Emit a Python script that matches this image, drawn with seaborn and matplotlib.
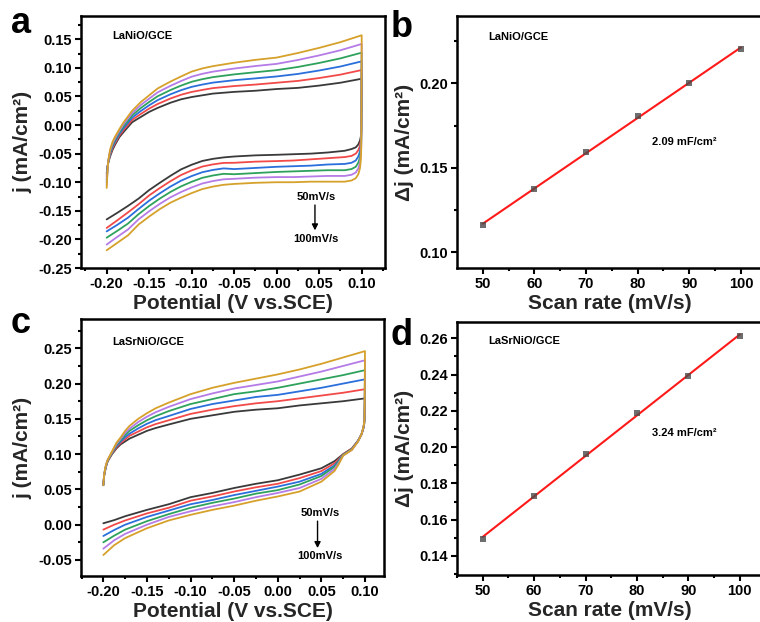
import numpy as np
import pandas as pd
import matplotlib
matplotlib.use("Agg")
import matplotlib.pyplot as plt
from matplotlib.ticker import MultipleLocator, FormatStrFormatter
import seaborn as sns

# ---------------- data ----------------
rates = ["50", "60", "70", "80", "90", "100"]
cv_colors = ["#3a3a3a", "#f24949", "#2a6fdb", "#2ea25c", "#b57be6", "#d6a12a"]

# Panel a: LaNiO/GCE  (forward = upper branch, reverse = lower branch)
E_fwd_a = [-0.200, -0.199, -0.198, -0.196, -0.193, -0.190, -0.185, -0.180, -0.170, -0.160,
           -0.150, -0.140, -0.125, -0.1125, -0.100, -0.0875, -0.075, -0.050, -0.025, 0.000,
           0.025, 0.050, 0.075, 0.100]
j_fwd_a_50 = [-0.085, -0.072, -0.065, -0.055, -0.043, -0.034, -0.021, -0.012, 0.005, 0.014, 0.023, 0.030,
              0.039, 0.045, 0.049, 0.052, 0.055, 0.058, 0.060, 0.063, 0.065, 0.069, 0.074, 0.081]
j_fwd_a_60 = [-0.090, -0.0736, -0.0642, -0.0526, -0.0402, -0.0312, -0.0182, -0.0086, 0.009, 0.0192, 0.0288, 0.0368,
              0.0464, 0.053, 0.0579, 0.0614, 0.0646, 0.0682, 0.0708, 0.074, 0.0772, 0.0822, 0.0882, 0.0962]
j_fwd_a_70 = [-0.095, -0.0752, -0.0634, -0.0502, -0.0374, -0.0284, -0.0154, -0.0052, 0.013, 0.0244, 0.0346, 0.0436,
              0.0538, 0.061, 0.0668, 0.0708, 0.0742, 0.0784, 0.0816, 0.085, 0.0894, 0.0954, 0.1024, 0.1114]
j_fwd_a_80 = [-0.100, -0.0768, -0.0626, -0.0478, -0.0346, -0.0256, -0.0126, -0.0018, 0.017, 0.0296, 0.0404, 0.0504,
              0.0612, 0.069, 0.0757, 0.0802, 0.0838, 0.0886, 0.0924, 0.096, 0.1016, 0.1086, 0.1166, 0.1266]
j_fwd_a_90 = [-0.105, -0.0784, -0.0618, -0.0454, -0.0318, -0.0228, -0.0098, 0.0016, 0.021, 0.0348, 0.0462, 0.0572,
              0.0686, 0.077, 0.0846, 0.0896, 0.0934, 0.0988, 0.1032, 0.107, 0.1138, 0.1218, 0.1308, 0.1418]
j_fwd_a_100 = [-0.110, -0.080, -0.061, -0.043, -0.029, -0.020, -0.007, 0.005, 0.025, 0.040, 0.052, 0.064,
               0.076, 0.085, 0.0935, 0.099, 0.103, 0.109, 0.114, 0.118, 0.126, 0.135, 0.145, 0.157]

E_rev_a = [0.0995, 0.099, 0.098, 0.096, 0.093, 0.088, 0.080, 0.060, 0.040, 0.020, 0.000,
           -0.025, -0.050, -0.0625, -0.075, -0.0875, -0.100, -0.1125, -0.125, -0.1375, -0.150,
           -0.1625, -0.175, -0.1875, -0.200]
j_rev_a_50 = [-0.010, -0.020, -0.027, -0.034, -0.039, -0.042, -0.045, -0.048, -0.050, -0.051, -0.052, -0.053, -0.055,
              -0.0566, -0.0591, -0.0628, -0.0694, -0.0775, -0.0888, -0.101, -0.1137, -0.1287, -0.1415, -0.1535, -0.165]
j_rev_a_60 = [-0.014, -0.027, -0.036, -0.044, -0.050, -0.054, -0.056, -0.058, -0.060, -0.062, -0.063, -0.064, -0.066,
              -0.0662, -0.0688, -0.0726, -0.0793, -0.0874, -0.0982, -0.1102, -0.123, -0.1385, -0.1528, -0.1666, -0.180]
j_rev_a_70 = [-0.020, -0.035, -0.046, -0.055, -0.062, -0.066, -0.068, -0.069, -0.071, -0.072, -0.073, -0.075, -0.077,
              -0.0758, -0.0785, -0.0825, -0.0892, -0.0973, -0.1076, -0.1194, -0.1322, -0.1468, -0.1621, -0.1745, -0.186]
j_rev_a_80 = [-0.026, -0.043, -0.056, -0.066, -0.073, -0.077, -0.079, -0.079, -0.080, -0.081, -0.082, -0.084, -0.086,
              -0.0853, -0.0882, -0.0923, -0.0992, -0.1072, -0.117, -0.1286, -0.1415, -0.1559, -0.1724, -0.185, -0.197]
j_rev_a_90 = [-0.033, -0.051, -0.066, -0.076, -0.083, -0.087, -0.089, -0.089, -0.090, -0.091, -0.091, -0.092, -0.094,
              -0.0949, -0.0979, -0.1022, -0.1091, -0.1171, -0.1264, -0.1378, -0.1507, -0.1649, -0.1827, -0.1955, -0.209]
j_rev_a_100 = [-0.040, -0.060, -0.075, -0.086, -0.093, -0.097, -0.099, -0.099, -0.099, -0.100, -0.100, -0.101, -0.103,
               -0.1045, -0.1076, -0.112, -0.119, -0.127, -0.1358, -0.147, -0.160, -0.174, -0.193, -0.206, -0.219]

# Panel c: LaSrNiO/GCE
E_fwd_c = [-0.200, -0.199, -0.197, -0.195, -0.190, -0.185, -0.180, -0.175, -0.170, -0.160, -0.150,
           -0.140, -0.125, -0.100, -0.075, -0.050, -0.025, 0.000, 0.025, 0.050, 0.075, 0.100]
j_fwd_c_50 = [0.056, 0.070, 0.082, 0.090, 0.100, 0.108, 0.114, 0.118, 0.122, 0.1275, 0.133,
              0.137, 0.142, 0.150, 0.155, 0.160, 0.163, 0.165, 0.169, 0.172, 0.175, 0.179]
j_fwd_c_60 = [0.056, 0.070, 0.083, 0.090, 0.101, 0.1096, 0.116, 0.121, 0.126, 0.132, 0.138,
              0.1426, 0.148, 0.157, 0.163, 0.168, 0.172, 0.175, 0.179, 0.183, 0.187, 0.192]
j_fwd_c_70 = [0.056, 0.071, 0.083, 0.091, 0.102, 0.1112, 0.118, 0.124, 0.129, 0.1365, 0.143,
              0.1482, 0.154, 0.164, 0.171, 0.176, 0.181, 0.184, 0.189, 0.194, 0.200, 0.206]
j_fwd_c_80 = [0.056, 0.071, 0.084, 0.091, 0.102, 0.1128, 0.120, 0.127, 0.133, 0.141, 0.148,
              0.1538, 0.161, 0.171, 0.178, 0.185, 0.189, 0.194, 0.200, 0.206, 0.212, 0.219]
j_fwd_c_90 = [0.056, 0.072, 0.084, 0.092, 0.103, 0.1144, 0.122, 0.130, 0.136, 0.1455, 0.153,
              0.1594, 0.167, 0.178, 0.186, 0.193, 0.198, 0.203, 0.210, 0.217, 0.225, 0.233]
j_fwd_c_100 = [0.056, 0.072, 0.085, 0.092, 0.104, 0.116, 0.124, 0.133, 0.140, 0.150, 0.158,
               0.165, 0.173, 0.185, 0.194, 0.201, 0.207, 0.213, 0.220, 0.228, 0.237, 0.246]

E_rev_c = [0.0995, 0.099, 0.098, 0.096, 0.092, 0.085, 0.075, 0.070, 0.065, 0.050, 0.025, 0.000,
           -0.025, -0.050, -0.075, -0.100, -0.125, -0.150, -0.175, -0.1875, -0.200]
j_rev_c_50 = [0.150, 0.142, 0.136, 0.128, 0.119, 0.108, 0.100, 0.095, 0.090, 0.080, 0.071, 0.063,
              0.058, 0.052, 0.045, 0.039, 0.029, 0.021, 0.012, 0.0065, 0.002]
j_rev_c_60 = [0.150, 0.142, 0.136, 0.128, 0.119, 0.108, 0.100, 0.093, 0.087, 0.076, 0.066, 0.058,
              0.053, 0.047, 0.040, 0.034, 0.024, 0.016, 0.006, 0.000, -0.007]
j_rev_c_70 = [0.151, 0.143, 0.136, 0.128, 0.119, 0.107, 0.099, 0.091, 0.084, 0.072, 0.061, 0.054,
              0.048, 0.042, 0.035, 0.029, 0.020, 0.011, 0.000, -0.0075, -0.016]
j_rev_c_80 = [0.151, 0.143, 0.137, 0.128, 0.118, 0.107, 0.099, 0.090, 0.082, 0.069, 0.057, 0.049,
              0.044, 0.037, 0.031, 0.024, 0.015, 0.005, -0.007, -0.0155, -0.025]
j_rev_c_90 = [0.152, 0.144, 0.137, 0.128, 0.118, 0.106, 0.098, 0.088, 0.079, 0.065, 0.052, 0.045,
              0.039, 0.032, 0.026, 0.019, 0.011, 0.000, -0.013, -0.022, -0.034]
j_rev_c_100 = [0.152, 0.144, 0.137, 0.128, 0.118, 0.106, 0.098, 0.086, 0.076, 0.061, 0.047, 0.040,
               0.034, 0.027, 0.021, 0.014, 0.006, -0.005, -0.019, -0.029, -0.043]

# Panels b, d: delta j vs scan rate
scan_rate = [50, 60, 70, 80, 90, 100]
dj_b = [0.1164, 0.1373, 0.1592, 0.1807, 0.2002, 0.2205]
dj_d = [0.1494, 0.1732, 0.1960, 0.2186, 0.2393, 0.2615]

# ---------------- style ----------------
sns.set_style("ticks")
plt.rcParams["font.family"] = ["Liberation Sans", "DejaVu Sans"]
plt.rcParams["font.weight"] = "bold"
plt.rcParams["axes.labelweight"] = "bold"
plt.rcParams["axes.unicode_minus"] = False
plt.rcParams["axes.linewidth"] = 1.6
plt.rcParams["axes.edgecolor"] = "black"

W, H = 760, 622
fig = plt.figure(figsize=(W / 100, H / 100), dpi=100)


def px_axes(l, r, t, b):
    return fig.add_axes([l / W, 1 - b / H, (r - l) / W, (b - t) / H])


ax_a = px_axes(81, 385, 16, 268)
ax_b = px_axes(457, 763, 16, 268)
ax_c = px_axes(81, 384, 319, 576)
ax_d = px_axes(457, 763, 322, 575)


def style_axes(ax, xmaj, xmin, ymaj, ymin, xfmt, yfmt):
    ax.xaxis.set_major_locator(MultipleLocator(xmaj))
    ax.xaxis.set_minor_locator(MultipleLocator(xmin))
    ax.yaxis.set_major_locator(MultipleLocator(ymaj))
    ax.yaxis.set_minor_locator(MultipleLocator(ymin))
    ax.xaxis.set_major_formatter(FormatStrFormatter(xfmt))
    ax.yaxis.set_major_formatter(FormatStrFormatter(yfmt))
    ax.tick_params(which="both", direction="out", top=False, right=False,
                   width=1.5, colors="black", labelsize=10.5, pad=2)
    ax.tick_params(which="major", length=4.5)
    ax.tick_params(which="minor", length=2.5)
    for sp in ax.spines.values():
        sp.set_visible(True)
        sp.set_linewidth(1.8)
        sp.set_color("black")
    for lab in ax.get_xticklabels() + ax.get_yticklabels():
        lab.set_fontweight("bold")


def cv_frame(E_fwd, E_rev, fwd, rev):
    rows = []
    for rate, jf, jr in zip(rates, fwd, rev):
        E = list(E_fwd) + list(E_rev)
        J = list(jf) + list(jr)
        for i, (e, j) in enumerate(zip(E, J)):
            rows.append({"E": e, "j": j, "rate": rate, "order": i})
    return pd.DataFrame(rows)


df_a = cv_frame(E_fwd_a, E_rev_a,
                [j_fwd_a_50, j_fwd_a_60, j_fwd_a_70, j_fwd_a_80, j_fwd_a_90, j_fwd_a_100],
                [j_rev_a_50, j_rev_a_60, j_rev_a_70, j_rev_a_80, j_rev_a_90, j_rev_a_100])
df_c = cv_frame(E_fwd_c, E_rev_c,
                [j_fwd_c_50, j_fwd_c_60, j_fwd_c_70, j_fwd_c_80, j_fwd_c_90, j_fwd_c_100],
                [j_rev_c_50, j_rev_c_60, j_rev_c_70, j_rev_c_80, j_rev_c_90, j_rev_c_100])

pal = dict(zip(rates, cv_colors))

for ax, df in ((ax_a, df_a), (ax_c, df_c)):
    sns.lineplot(data=df, x="E", y="j", hue="rate", palette=pal, sort=False,
                 estimator=None, lw=1.3, legend=False, ax=ax)
    for ln in ax.get_lines():
        ln.set_solid_joinstyle("round")
    ax.set_xlabel("Potential (V vs.SCE)", fontsize=15, fontweight="bold", labelpad=2)
    ax.set_ylabel("j (mA/cm²)", fontsize=15, fontweight="bold", labelpad=4)

ax_a.set_xlim(-0.2302, 0.1274)
ax_a.set_ylim(-0.25, 0.1907)
style_axes(ax_a, 0.05, 0.025, 0.05, 0.025, "%.2f", "%.2f")

ax_c.set_xlim(-0.2256, 0.1218)
ax_c.set_ylim(-0.0727, 0.2915)
style_axes(ax_c, 0.05, 0.025, 0.05, 0.025, "%.2f", "%.2f")

for ax, dj in ((ax_b, dj_b), (ax_d, dj_d)):
    df = pd.DataFrame({"rate": scan_rate, "dj": dj})
    sns.regplot(data=df, x="rate", y="dj", ci=None, ax=ax, marker="s",
                scatter_kws=dict(s=22, color="#4a4a4a", zorder=3, linewidths=0),
                line_kws=dict(color="#ff1a1a", lw=1.5, zorder=2))
    ax.set_xlabel("Scan rate (mV/s)", fontsize=15, fontweight="bold", labelpad=2)
    ax.set_ylabel("Δj (mA/cm²)", fontsize=15, fontweight="bold", labelpad=4)

ax_b.set_xlim(45.03, 104.26)
ax_b.set_ylim(0.0907, 0.2398)
style_axes(ax_b, 10, 5, 0.05, 0.025, "%d", "%.2f")

ax_d.set_xlim(45.0, 104.5)
ax_d.set_ylim(0.1295, 0.269)
style_axes(ax_d, 10, 5, 0.02, 0.01, "%d", "%.2f")

# ---------------- annotations ----------------
small = dict(fontsize=8, fontweight="bold", color="black")
ax_a.text(0.102, 0.921, "LaNiO/GCE", transform=ax_a.transAxes, va="center", ha="left", **small)
ax_b.text(0.101, 0.917, "LaNiO/GCE", transform=ax_b.transAxes, va="center", ha="left", **small)
ax_c.text(0.102, 0.911, "LaSrNiO/GCE", transform=ax_c.transAxes, va="center", ha="left", **small)
ax_d.text(0.101, 0.925, "LaSrNiO/GCE", transform=ax_d.transAxes, va="center", ha="left", **small)
ax_b.text(0.637, 0.50, "2.09 mF/cm²", transform=ax_b.transAxes, va="center", ha="left", **small)
ax_d.text(0.637, 0.561, "3.24 mF/cm²", transform=ax_d.transAxes, va="center", ha="left", **small)

# scan-rate arrows
ax_a.text(0.0465, -0.1255, "50mV/s", ha="center", va="center", **small)
ax_a.text(0.0465, -0.199, "100mV/s", ha="center", va="center", **small)
ax_a.annotate("", xy=(0.045, -0.189), xytext=(0.045, -0.135),
              arrowprops=dict(arrowstyle="-|>,head_width=0.18,head_length=0.35", color="black", lw=1.0))
ax_c.text(0.0485, 0.0166, "50mV/s", ha="center", va="center", **small)
ax_c.text(0.0485, -0.0444, "100mV/s", ha="center", va="center", **small)
ax_c.annotate("", xy=(0.0456, -0.037), xytext=(0.0456, 0.009),
              arrowprops=dict(arrowstyle="-|>,head_width=0.18,head_length=0.35", color="black", lw=1.0))

# panel letters
letter = dict(fontsize=26, fontweight="heavy", color="black", va="baseline", ha="left")
fig.text(11 / W, 1 - 33 / H, "a", **letter)
fig.text(391 / W, 1 - 37 / H, "b", **letter)
fig.text(11 / W, 1 - 333 / H, "c", **letter)
fig.text(391 / W, 1 - 345 / H, "d", **letter)

fig.savefig("out.png", dpi=100)
